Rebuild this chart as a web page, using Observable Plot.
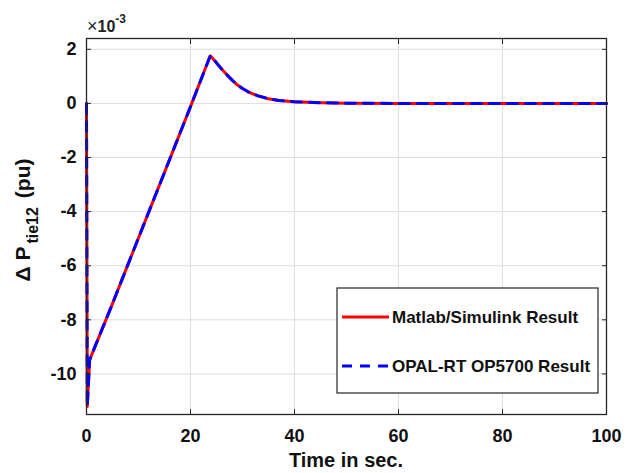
<!DOCTYPE html>
<html>
<head>
<meta charset="utf-8">
<script src="https://cdn.jsdelivr.net/npm/d3@7"></script>
<script src="https://cdn.jsdelivr.net/npm/@observablehq/plot@0.6"></script>
<style>
  html, body { margin: 0; padding: 0; background: #fff; }
  #chart { width: 630px; height: 473px; }
</style>
</head>
<body>
<div id="chart"></div>
<script>
// Time (s)
const time = [0, 0.15, 0.6, 5, 10, 15, 20, 23.8, 25, 26, 27, 28, 29, 30, 31, 32, 33, 35, 37, 40, 45, 50, 60, 70, 80, 90, 100];
// ΔPtie12 (×10^-3 pu), Matlab/Simulink
const matlabResult = [0, -11.2, -9.48, -7.4, -4.97, -2.55, -0.12, 1.76, 1.5, 1.27, 1.06, 0.86, 0.69, 0.55, 0.44, 0.35, 0.28, 0.17, 0.11, 0.06, 0.025, 0.01, 0, 0, 0, 0, 0];
// ΔPtie12 (×10^-3 pu), OPAL-RT OP5700
const opalResult = [0, -11.2, -9.48, -7.4, -4.97, -2.55, -0.12, 1.76, 1.5, 1.27, 1.06, 0.86, 0.69, 0.55, 0.44, 0.35, 0.28, 0.17, 0.11, 0.06, 0.025, 0.01, 0, 0, 0, 0, 0];

const xTicks = [0, 20, 40, 60, 80, 100];
const yTicks = [-10, -8, -6, -4, -2, 0, 2];
const seriesNames = ["Matlab/Simulink Result", "OPAL-RT OP5700 Result"];

(function () {
const rows = time.map((t, i) => ({t, matlab: matlabResult[i], opal: opalResult[i]}));

const font = "'Liberation Sans', Arial, Helvetica, sans-serif";
const gridColor = "#dedede";
const axisColor = "#262626";
const textColor = "#111";
const dash = "10,8";
const fmt = d => String(d);

const plot = Plot.plot({
  width: 630,
  height: 473,
  marginLeft: 86,
  marginRight: 24,
  marginTop: 38,
  marginBottom: 59,
  style: {fontFamily: font, background: "#fff", color: "#000", overflow: "visible"},
  x: {domain: [0, 100], label: null},
  y: {domain: [-11.5, 2.4], label: null},
  marks: [
    Plot.gridX(xTicks, {stroke: gridColor, strokeOpacity: 1}),
    Plot.gridY(yTicks, {stroke: gridColor, strokeOpacity: 1}),
    Plot.line(rows, {x: "t", y: "matlab", stroke: "#ff0000", strokeWidth: 3}),
    Plot.line(rows, {x: "t", y: "opal", stroke: "#0000ff", strokeWidth: 3, strokeDasharray: dash}),
    Plot.frame({stroke: axisColor, strokeWidth: 1.3}),
    Plot.axisX(xTicks, {anchor: "bottom", tickSize: 0, tickPadding: 15, tickFormat: fmt, fontSize: 18, fontWeight: "bold", fill: textColor, label: null}),
    Plot.axisY(yTicks, {anchor: "left", tickSize: 0, tickPadding: 10, tickFormat: fmt, fontSize: 18, fontWeight: "bold", fill: textColor, label: null}),
    Plot.axisX(xTicks, {anchor: "bottom", tickSize: -5, text: null, label: null, stroke: axisColor}),
    Plot.axisX(xTicks, {anchor: "top", tickSize: -5, text: null, label: null, stroke: axisColor}),
    Plot.axisY(yTicks, {anchor: "left", tickSize: -5, text: null, label: null, stroke: axisColor}),
    Plot.axisY(yTicks, {anchor: "right", tickSize: -5, text: null, label: null, stroke: axisColor})
  ]
});

document.getElementById("chart").appendChild(plot);

const svg = d3.select(plot);
const sx = plot.scale("x");
const sy = plot.scale("y");
const pLeft = sx.apply(0), pRight = sx.apply(100);
const pTop = sy.apply(2.4), pBottom = sy.apply(-11.5);

// x-axis title
svg.append("text")
  .attr("x", (pLeft + pRight) / 2)
  .attr("y", pBottom + 53)
  .attr("text-anchor", "middle")
  .attr("font-family", font)
  .attr("font-size", 20)
  .attr("font-weight", "bold")
  .attr("fill", textColor)
  .text("Time in sec.");

// y-axis title with subscript
const yl = svg.append("text")
  .attr("transform", `translate(${pLeft - 56},${(pTop + pBottom) / 2 - 6}) rotate(-90)`)
  .attr("text-anchor", "middle")
  .attr("font-family", font)
  .attr("font-size", 21)
  .attr("font-weight", "bold")
  .attr("fill", textColor);
yl.append("tspan").text("\u0394 P");
yl.append("tspan").attr("font-size", 16).attr("dx", 3).attr("dy", 8).text("tie12");
yl.append("tspan").attr("dx", 9).attr("dy", -8).text("(pu)");

// exponent label
const ex = svg.append("text")
  .attr("x", pLeft + 1)
  .attr("y", pTop - 6)
  .attr("text-anchor", "start")
  .attr("font-family", font)
  .attr("fill", "#222");
ex.append("tspan").attr("font-size", 18).text("\u00d7");
ex.append("tspan").attr("font-size", 16).attr("font-weight", "bold").text("10");
ex.append("tspan").attr("font-size", 12).attr("font-weight", "bold").attr("dy", -9).text("-3");

// legend
const lg = svg.append("g");
const lx = pRight - 269, ly = pBottom - 126, lw = 261, lh = 105;
lg.append("rect").attr("x", lx).attr("y", ly).attr("width", lw).attr("height", lh)
  .attr("fill", "#fff").attr("stroke", axisColor).attr("stroke-width", 1.2);
const entries = [
  {name: seriesNames[0], color: "#ff0000", dash: null, dy: 29},
  {name: seriesNames[1], color: "#0000ff", dash: dash, dy: 78}
];
for (const e of entries) {
  lg.append("line")
    .attr("x1", lx + 5).attr("x2", lx + 52)
    .attr("y1", ly + e.dy).attr("y2", ly + e.dy)
    .attr("stroke", e.color).attr("stroke-width", 3)
    .attr("stroke-dasharray", e.dash);
  lg.append("text")
    .attr("x", lx + 55).attr("y", ly + e.dy + 6)
    .attr("text-anchor", "start")
    .attr("font-family", font).attr("font-size", 17).attr("font-weight", "bold")
    .attr("fill", textColor)
    .text(e.name);
}
})();
</script>
</body>
</html>
